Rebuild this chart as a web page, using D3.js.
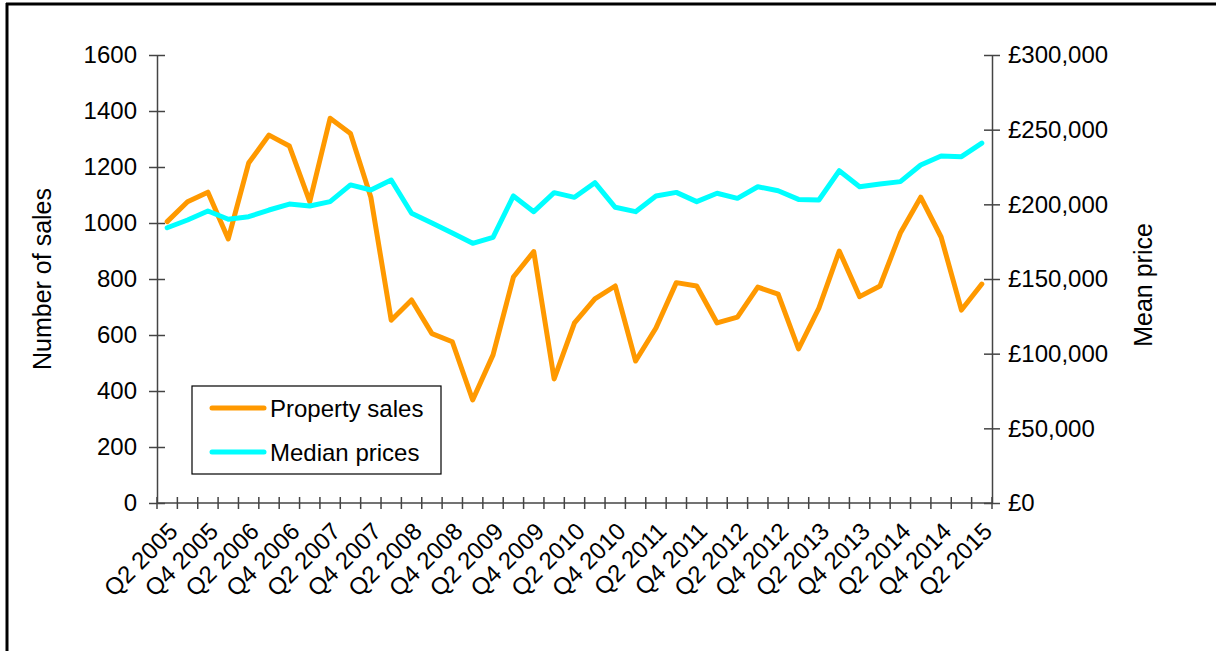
<!DOCTYPE html>
<html>
<head>
<meta charset="utf-8">
<script src="https://cdn.jsdelivr.net/npm/d3@7"></script>
<style>
  body { margin: 0; background: #fff; }
  svg { display: block; font-family: "Liberation Sans", Arial, sans-serif; }
</style>
</head>
<body>
<svg id="chart" width="1216" height="651"></svg>
<script>
const quarters = [
  "Q2 2005","Q3 2005","Q4 2005","Q1 2006","Q2 2006","Q3 2006","Q4 2006","Q1 2007",
  "Q2 2007","Q3 2007","Q4 2007","Q1 2008","Q2 2008","Q3 2008","Q4 2008","Q1 2009",
  "Q2 2009","Q3 2009","Q4 2009","Q1 2010","Q2 2010","Q3 2010","Q4 2010","Q1 2011",
  "Q2 2011","Q3 2011","Q4 2011","Q1 2012","Q2 2012","Q3 2012","Q4 2012","Q1 2013",
  "Q2 2013","Q3 2013","Q4 2013","Q1 2014","Q2 2014","Q3 2014","Q4 2014","Q1 2015",
  "Q2 2015"
];
const propertySales = [
  1005, 1076, 1110, 943, 1214, 1314, 1275, 1076,
  1374, 1320, 1092, 653, 725, 605, 576, 368,
  529, 807, 898, 443, 643, 729, 775, 507,
  625, 787, 775, 643, 664, 771, 746, 550,
  696, 900, 737, 775, 964, 1092, 950, 689,
  782
];
const medianPrices = [
  184300, 189500, 195500, 190000, 191700, 196200, 200200, 198900,
  201800, 213000, 209600, 216300, 194000, 187500, 180800, 173900,
  177900, 205600, 195100, 207800, 204700, 214500, 198000, 195100,
  205600, 208000, 201800, 207400, 204000, 211800, 209100, 203300,
  202900, 222500, 211800, 213600, 215200, 226300, 232400, 231900,
  241000
];
const leftTicks = [0, 200, 400, 600, 800, 1000, 1200, 1400, 1600];
const rightTicks = [0, 50000, 100000, 150000, 200000, 250000, 300000];
const seriesNames = ["Property sales", "Median prices"];
const seriesColors = ["#FF9900", "#00FFFF"];

(function () {
const svg = d3.select("#chart");
const pL = 157, pR = 992, pT = 55, pB = 503;

// outer frame
svg.append("line").attr("x1", 6).attr("x2", 1216).attr("y1", 4).attr("y2", 4)
  .attr("stroke", "#000").attr("stroke-width", 3);
svg.append("line").attr("x1", 7).attr("x2", 7).attr("y1", 3).attr("y2", 651)
  .attr("stroke", "#000").attr("stroke-width", 3);

const x = d3.scaleBand().domain(quarters).range([pL, pR]).paddingInner(0).paddingOuter(0);
const yL = d3.scaleLinear().domain([0, 1600]).range([pB, pT]);
const yR = d3.scaleLinear().domain([0, 300000]).range([pB, pT]);
const cx = d => x(d) + x.bandwidth() / 2;

const axisColor = "#444";

// left axis
const gL = svg.append("g").attr("transform", `translate(${pL},0)`)
  .call(d3.axisLeft(yL).tickValues(leftTicks).tickSize(0).tickPadding(20).tickFormat(d3.format("d")));
gL.select(".domain").attr("stroke", axisColor).attr("stroke-width", 1.5);
gL.selectAll(".tick text").attr("font-size", 24).attr("fill", "#000").attr("font-family", "Liberation Sans, Arial, sans-serif");
gL.selectAll(".tick").append("line").attr("x1", -8).attr("x2", 8).attr("stroke", axisColor).attr("stroke-width", 1.5);

// right axis
const gR = svg.append("g").attr("transform", `translate(${pR},0)`)
  .call(d3.axisRight(yR).tickValues(rightTicks).tickSize(0).tickPadding(16)
    .tickFormat(d => "£" + d3.format(",")(d)));
gR.select(".domain").attr("stroke", axisColor).attr("stroke-width", 1.5);
gR.selectAll(".tick text").attr("font-size", 24).attr("fill", "#000").attr("font-family", "Liberation Sans, Arial, sans-serif");
gR.selectAll(".tick").append("line").attr("x1", -8).attr("x2", 8).attr("stroke", axisColor).attr("stroke-width", 1.5);

// x axis
const gX = svg.append("g").attr("transform", `translate(0,${pB})`);
gX.append("line").attr("x1", pL).attr("x2", pR).attr("stroke", axisColor).attr("stroke-width", 1.5);
const boundaries = quarters.map(q => x(q)).concat([pR]);
gX.selectAll("line.tk").data(boundaries).join("line").attr("class", "tk")
  .attr("x1", d => d).attr("x2", d => d).attr("y1", -6).attr("y2", 6)
  .attr("stroke", axisColor).attr("stroke-width", 1.5);
gX.selectAll("text").data(quarters.filter((q, i) => i % 2 === 0)).join("text")
  .attr("transform", d => `translate(${cx(d)},${18}) rotate(-45)`)
  .attr("text-anchor", "end").attr("dy", "0.7em")
  .attr("font-size", 24).attr("fill", "#000")
  .text(d => d);

// axis titles
svg.append("text").attr("transform", `translate(51,${(pT + pB) / 2}) rotate(-90)`)
  .attr("text-anchor", "middle").attr("font-size", 25).text("Number of sales");
svg.append("text").attr("transform", `translate(1152,${(pT + pB) / 2 + 6}) rotate(-90)`)
  .attr("text-anchor", "middle").attr("font-size", 25).text("Mean price");

// lines
const lineL = d3.line().x((d, i) => cx(quarters[i])).y(d => yL(d));
const lineR = d3.line().x((d, i) => cx(quarters[i])).y(d => yR(d));
svg.append("path").datum(propertySales).attr("d", lineL)
  .attr("fill", "none").attr("stroke", seriesColors[0]).attr("stroke-width", 5)
  .attr("stroke-linejoin", "round").attr("stroke-linecap", "round");
svg.append("path").datum(medianPrices).attr("d", lineR)
  .attr("fill", "none").attr("stroke", seriesColors[1]).attr("stroke-width", 5)
  .attr("stroke-linejoin", "round").attr("stroke-linecap", "round");

// legend
const lg = svg.append("g");
lg.append("rect").attr("x", 192).attr("y", 386).attr("width", 249).attr("height", 88)
  .attr("fill", "#fff").attr("stroke", "#000").attr("stroke-width", 1.2);
seriesNames.forEach((n, i) => {
  const yy = 408 + i * 44;
  lg.append("line").attr("x1", 212).attr("x2", 264).attr("y1", yy).attr("y2", yy)
    .attr("stroke", seriesColors[i]).attr("stroke-width", 5).attr("stroke-linecap", "round");
  lg.append("text").attr("x", 270).attr("y", yy).attr("dy", "0.36em")
    .attr("font-size", 24).attr("fill", "#000").text(n);
});
})();
</script>
</body>
</html>
